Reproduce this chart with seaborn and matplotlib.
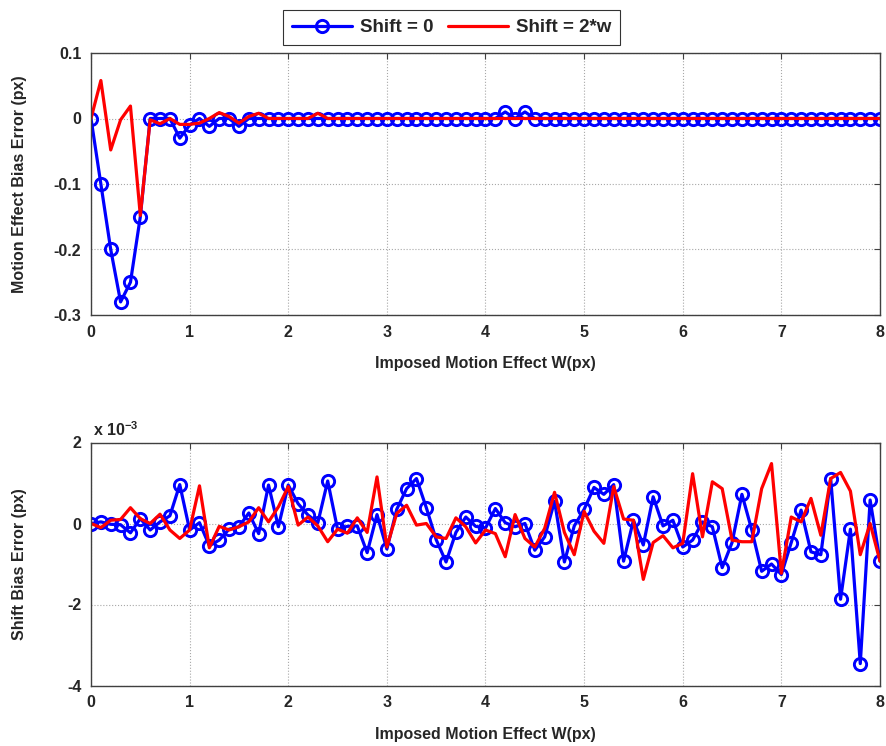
import numpy as np
import pandas as pd
import matplotlib
matplotlib.use("Agg")
import matplotlib.pyplot as plt
from matplotlib.ticker import FuncFormatter
import seaborn as sns

# imposed motion effect W (px), sampled every 0.1 px
w = np.round(np.arange(0, 81) * 0.1, 1)

# top panel: motion effect bias error (px)
bias_shift0 = [0, -0.1, -0.2, -0.28, -0.25, -0.15, 0, 0, 0, -0.03,
               -0.01, 0, -0.012, 0, 0, -0.012, 0, 0, 0, 0,
               0, 0, 0, 0, 0, 0, 0, 0, 0, 0,
               0, 0, 0, 0, 0, 0, 0, 0, 0, 0,
               0, 0, 0.01, 0, 0.01, 0, 0, 0, 0, 0,
               0, 0, 0, 0, 0, 0, 0, 0, 0, 0,
               0, 0, 0, 0, 0, 0, 0, 0, 0, 0,
               0, 0, 0, 0, 0, 0, 0, 0, 0, 0,
               0]
bias_shift2w = [0, 0.058, -0.048, -0.002, 0.019, -0.148, -0.002, -0.008, 0, -0.009,
                -0.009, -0.007, 0, 0.009, 0.003, -0.007, 0.003, 0.008, 0, 0,
                0, 0, 0, 0.008, 0, 0, 0, 0, 0, 0,
                0, 0, 0, 0, 0, 0, 0, 0, 0, 0,
                0, 0, 0, 0, 0, 0, 0, 0, 0, 0,
                0, 0, 0, 0, 0, 0, 0, 0, 0, 0,
                0, 0, 0, 0, 0, 0, 0, 0, 0, 0,
                0, 0, 0, 0, 0, 0, 0, 0, 0, 0,
                0]

# bottom panel: shift bias error, in units of 1e-3 px
shift_shift0 = [0, 0.04, -0.02, -0.03, -0.23, 0.12, -0.16, 0.04, 0.19, 0.96,
                -0.16, 0.02, -0.55, -0.41, -0.14, -0.08, 0.26, -0.25, 0.95, -0.08,
                0.95, 0.49, 0.21, 0.02, 1.05, -0.14, -0.07, -0.06, -0.72, 0.22,
                -0.63, 0.35, 0.86, 1.11, 0.39, -0.4, -0.95, -0.22, 0.16, -0.07,
                -0.11, 0.37, 0.02, -0.08, 0.0, -0.66, -0.33, 0.55, -0.95, -0.06,
                0.35, 0.89, 0.72, 0.96, -0.93, 0.08, -0.53, 0.66, -0.06, 0.08,
                -0.58, -0.41, 0.04, -0.08, -1.09, -0.47, 0.72, -0.16, -1.18, -1.0,
                -1.26, -0.47, 0.33, -0.7, -0.77, 1.11, -1.87, -0.14, -3.46, 0.58,
                -0.93]
shift_shift2w = [0, -0.1, 0.08, 0.1, 0.39, 0.12, 0, 0.23, -0.16, -0.37,
                 -0.16, 0.93, -0.6, -0.07, -0.16, -0.08, 0.04, 0.39, 0.04, 0.41,
                 0.91, -0.04, 0.16, -0.06, -0.45, -0.14, -0.24, 0.14, -0.22, 1.15,
                 -0.58, 0.25, 0.45, -0.04, 0, -0.33, -0.37, 0.14, -0.08, -0.48,
                 -0.16, -0.25, -0.82, 0.22, -0.37, -0.58, -0.12, 0.77, -0.22, -0.77,
                 0.3, -0.19, -0.49, 0.91, 0.11, 0.08, -1.38, -0.47, -0.3, -0.6,
                 -0.49, 1.23, -0.33, 1.03, 0.86, -0.41, -0.45, -0.45, 0.86, 1.48,
                 -1.23, 0.16, 0.04, 0.62, -0.29, 1.11, 1.26, 0.8, -0.77, 0,
                 -0.93]

df_top = pd.DataFrame({"w": w, "s0": bias_shift0, "s2": bias_shift2w})
df_bot = pd.DataFrame({"w": w, "s0": shift_shift0, "s2": shift_shift2w})

sns.set_style("white")
plt.rcParams["font.family"] = ["Liberation Sans", "DejaVu Sans"]
plt.rcParams["font.weight"] = "bold"
plt.rcParams["axes.unicode_minus"] = False
plt.rcParams["mathtext.fontset"] = "custom"
plt.rcParams["mathtext.rm"] = "Liberation Sans:bold"
plt.rcParams["mathtext.bf"] = "Liberation Sans:bold"
plt.rcParams["mathtext.default"] = "bf"

W, H = 887, 746
fig = plt.figure(figsize=(W / 100, H / 100), dpi=100)
ax1 = fig.add_axes([91 / W, 1 - 315 / H, 789 / W, 262 / H])
ax2 = fig.add_axes([91 / W, 1 - 685.5 / H, 789 / W, 243 / H])

blue_kw = dict(color="blue", marker="o", markersize=8.8, markerfacecolor="none",
               markeredgecolor="blue", markeredgewidth=2.1, linewidth=2.3)
red_kw = dict(color="red", linewidth=2.3)

for ax, df in ((ax1, df_top), (ax2, df_bot)):
    sns.lineplot(data=df, x="w", y="s0", ax=ax, label="Shift = 0", **blue_kw)
    sns.lineplot(data=df, x="w", y="s2", ax=ax, label="Shift = 2*w", **red_kw)
    ax.set_xlim(0, 8)
    ax.set_xticks(range(0, 9))
    ax.grid(True, linestyle=":", color="#a8a8a8", linewidth=0.8)
    ax.tick_params(direction="in", top=True, right=True, length=4, width=0.8,
                   labelsize=11.5, pad=7, color="#404040")
    for sp in ax.spines.values():
        sp.set_color("#404040")
        sp.set_linewidth(1.0)
    ax.set_xlabel("Imposed Motion Effect W(px)", fontsize=11.5, fontweight="bold", labelpad=12)
    ax.get_legend().remove()
    ax.yaxis.set_major_formatter(FuncFormatter(lambda v, p: "%g" % round(v, 6)))

ax1.set_ylim(-0.3, 0.1)
ax1.set_yticks([-0.3, -0.2, -0.1, 0, 0.1])
ax1.set_ylabel("Motion Effect Bias Error (px)", fontsize=11.5, fontweight="bold")
ax1.yaxis.set_label_coords(-0.081, 0.5)

ax2.set_ylim(-4, 2)
ax2.set_yticks([-4, -2, 0, 2])
ax2.set_ylabel("Shift Bias Error (px)", fontsize=11.5, fontweight="bold")
ax2.yaxis.set_label_coords(-0.081, 0.5)
ax2.text(0.003, 1.015, r"x 10$^{-3}$", transform=ax2.transAxes, ha="left", va="bottom",
         fontsize=11.5, fontweight="bold")

handles, labels = ax1.get_legend_handles_labels()
leg = fig.legend(handles, labels, loc="center", bbox_to_anchor=(451.5 / W, 1 - 27.5 / H),
                 ncol=2, frameon=True, fancybox=False, handlelength=3.2,
                 columnspacing=0.8, handletextpad=0.4, borderpad=0.5,
                 prop={"weight": "bold", "size": 13.5})
leg.get_frame().set_edgecolor("black")
leg.get_frame().set_linewidth(0.8)

fig.savefig("out.png", dpi=100)
